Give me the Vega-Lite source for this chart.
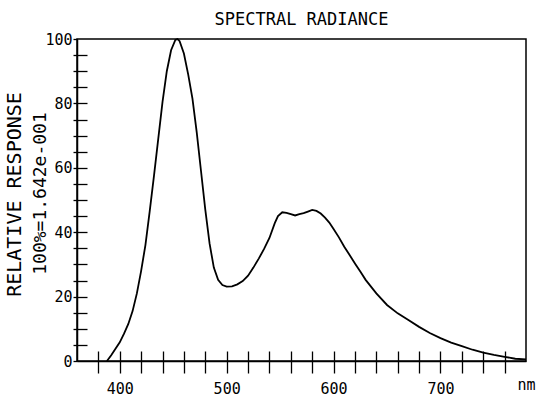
{
  "$schema": "https://vega.github.io/schema/vega-lite/v6.json",
  "width": 449,
  "height": 322,
  "autosize": {"type": "none"},
  "padding": {"left": 77, "top": 39, "right": 11, "bottom": 40},
  "background": "white",
  "title": {"text": "SPECTRAL RADIANCE", "font": "DejaVu Sans Mono", "fontSize": 17, "fontWeight": "normal", "color": "black", "anchor": "middle", "frame": "group", "offset": 14, "baseline": "alphabetic", "dy": 24},
  "config": {
    "view": {"stroke": "black", "strokeWidth": 1.5},
    "axis": {"grid": false, "domainColor": "black", "tickColor": "black", "labelColor": "black", "titleColor": "black", "labelFont": "DejaVu Sans Mono", "titleFont": "DejaVu Sans Mono", "titleFontWeight": "normal", "domainWidth": 1.5, "tickWidth": 1.3}
  },
  "data": {"values": [
    {"nm": 388, "response": 0},
    {"nm": 392, "response": 1.8},
    {"nm": 396, "response": 3.8},
    {"nm": 400, "response": 5.8},
    {"nm": 404, "response": 8.5},
    {"nm": 408, "response": 11.5},
    {"nm": 412, "response": 15.5},
    {"nm": 416, "response": 21},
    {"nm": 420, "response": 28},
    {"nm": 424, "response": 36},
    {"nm": 428, "response": 46.5},
    {"nm": 432, "response": 57.5},
    {"nm": 436, "response": 69},
    {"nm": 440, "response": 80.5},
    {"nm": 444, "response": 90},
    {"nm": 448, "response": 96.5},
    {"nm": 452, "response": 99.7},
    {"nm": 454, "response": 100},
    {"nm": 456, "response": 99.3},
    {"nm": 460, "response": 95.5},
    {"nm": 464, "response": 89},
    {"nm": 468, "response": 81.5},
    {"nm": 472, "response": 71},
    {"nm": 476, "response": 59},
    {"nm": 480, "response": 47},
    {"nm": 484, "response": 36.5},
    {"nm": 488, "response": 29},
    {"nm": 492, "response": 25.2},
    {"nm": 496, "response": 23.6},
    {"nm": 500, "response": 23.1},
    {"nm": 505, "response": 23.2},
    {"nm": 510, "response": 23.8},
    {"nm": 515, "response": 24.8},
    {"nm": 520, "response": 26.5},
    {"nm": 525, "response": 29},
    {"nm": 530, "response": 31.8},
    {"nm": 535, "response": 34.8},
    {"nm": 540, "response": 38.2},
    {"nm": 545, "response": 42.8},
    {"nm": 548, "response": 45},
    {"nm": 552, "response": 46.2},
    {"nm": 556, "response": 46},
    {"nm": 560, "response": 45.6},
    {"nm": 564, "response": 45.2},
    {"nm": 568, "response": 45.6},
    {"nm": 572, "response": 45.9},
    {"nm": 576, "response": 46.4},
    {"nm": 580, "response": 46.9},
    {"nm": 584, "response": 46.6},
    {"nm": 588, "response": 45.8},
    {"nm": 592, "response": 44.5},
    {"nm": 596, "response": 43},
    {"nm": 600, "response": 41},
    {"nm": 605, "response": 38.4},
    {"nm": 610, "response": 35.5},
    {"nm": 615, "response": 32.9},
    {"nm": 620, "response": 30.3},
    {"nm": 625, "response": 27.8},
    {"nm": 630, "response": 25.2},
    {"nm": 640, "response": 21},
    {"nm": 650, "response": 17.4},
    {"nm": 660, "response": 14.8},
    {"nm": 670, "response": 12.7},
    {"nm": 680, "response": 10.6},
    {"nm": 690, "response": 8.7},
    {"nm": 700, "response": 7.1},
    {"nm": 710, "response": 5.7},
    {"nm": 720, "response": 4.6},
    {"nm": 730, "response": 3.5},
    {"nm": 740, "response": 2.6},
    {"nm": 750, "response": 1.9},
    {"nm": 760, "response": 1.3},
    {"nm": 770, "response": 0.7},
    {"nm": 780, "response": 0.5}
  ]},
  "resolve": {"axis": {"x": "independent", "y": "independent"}},
  "layer": [
    {
      "mark": {"type": "line", "color": "black", "strokeWidth": 1.8},
      "encoding": {
        "x": {"field": "nm", "type": "quantitative", "scale": {"domain": [360, 780], "nice": false, "zero": false},
          "axis": {"orient": "bottom", "values": [380, 400, 420, 440, 460, 480, 500, 520, 540, 560, 580, 600, 620, 640, 660, 680, 700, 720, 740, 760], "tickSize": 12, "labelPadding": 8, "labelFontSize": 15, "labelExpr": "datum.value % 100 === 0 ? datum.label : ''", "labelFlush": false, "labelOverlap": false, "title": "nm", "titleFontSize": 15, "titleX": 449, "titleY": 28, "titleAlign": "center", "titleBaseline": "alphabetic"}},
        "y": {"field": "response", "type": "quantitative", "scale": {"domain": [0, 100], "nice": false},
          "axis": {"orient": "left", "values": [0, 5, 10, 15, 20, 25, 30, 35, 40, 45, 50, 55, 60, 65, 70, 75, 80, 85, 90, 95, 100], "tickSize": 4, "labelPadding": 1, "labelFontSize": 15, "labelExpr": "datum.value % 20 === 0 ? datum.label : ''", "labelFlush": false, "labelOverlap": false, "title": "RELATIVE RESPONSE", "titleFontSize": 20, "titleAngle": -90, "titleX": -57, "titleY": 155, "titleAlign": "center", "titleBaseline": "alphabetic"}}
      }
    },
    {
      "mark": {"type": "line", "strokeOpacity": 0},
      "encoding": {
        "x": {"field": "nm", "type": "quantitative",
          "axis": {"orient": "bottom", "offset": -10, "values": [380, 400, 420, 440, 460, 480, 500, 520, 540, 560, 580, 600, 620, 640, 660, 680, 700, 720, 740, 760], "tickSize": 10, "labels": false, "domain": false, "title": null}},
        "y": {"field": "response", "type": "quantitative",
          "axis": {"orient": "left", "offset": -10, "values": [5, 10, 15, 20, 25, 30, 35, 40, 45, 50, 55, 60, 65, 70, 75, 80, 85, 90, 95], "tickSize": 10, "labels": false, "domain": false, "title": "100%=1.642e-001", "titleFontSize": 18, "titleAngle": -90, "titleX": -42, "titleY": 154, "titleAlign": "center", "titleBaseline": "alphabetic"}}
      }
    }
  ]
}
